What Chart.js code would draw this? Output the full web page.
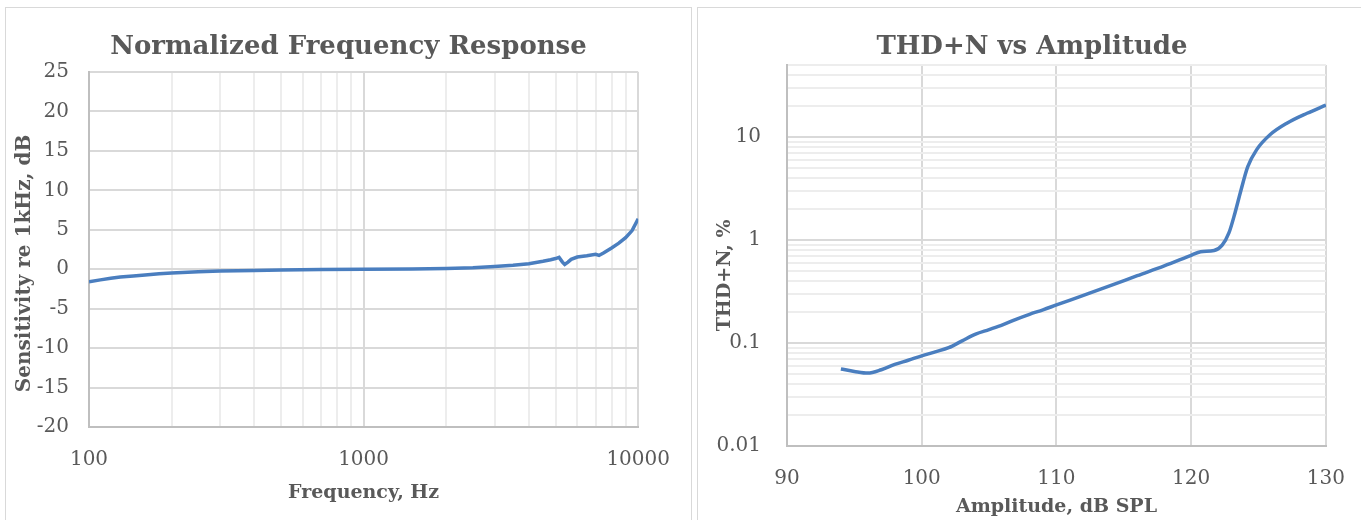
<!DOCTYPE html>
<html>
<head>
<meta charset="utf-8">
<script src="https://cdn.jsdelivr.net/npm/chart.js@4.4.0/dist/chart.umd.min.js"></script>
<style>
body { margin: 0; background: #fff; overflow: hidden; width: 1361px; height: 520px; }
.panel { position: absolute; top: 7px; height: 530px; border: 1px solid #d9d9d9; box-sizing: border-box; }
#p1 { left: 5px; width: 687px; }
#p2 { left: 697px; width: 700px; }
canvas { position: absolute; left: 0; top: 0; }
</style>
</head>
<body>
<div class="panel" id="p1"><canvas id="freqChart" width="685" height="512"></canvas></div>
<div class="panel" id="p2"><canvas id="thdChart" width="668" height="512"></canvas></div>
<script>
// frequency response
const freqHz = [100, 110, 120, 130, 145, 160, 180, 200, 250, 300, 400, 500, 700, 1000, 1500, 2000, 2500, 3000, 3500, 4000, 4500, 4800, 5000, 5150, 5300, 5400, 5550, 5700, 6000, 6500, 7000, 7200, 7500, 8000, 8500, 9000, 9500, 10000];
const sensDb = [-1.6, -1.35, -1.15, -1.0, -0.85, -0.72, -0.58, -0.48, -0.32, -0.24, -0.15, -0.1, -0.05, 0, 0.03, 0.1, 0.2, 0.35, 0.5, 0.7, 1.0, 1.2, 1.35, 1.5, 0.9, 0.6, 0.9, 1.25, 1.55, 1.7, 1.9, 1.75, 2.1, 2.7, 3.3, 4.0, 4.9, 6.4];

// THD+N vs amplitude
const splDb = [94, 95, 96, 97, 98, 99, 100, 101, 102, 103, 104, 105, 106, 107, 108, 109, 110, 112, 114, 116, 118, 120, 120.7, 121.7, 122.3, 122.8, 123.25, 123.7, 124.2, 124.85, 125.85, 127.1, 128.6, 130];
const thdPct = [0.056, 0.053, 0.051, 0.055, 0.062, 0.068, 0.075, 0.082, 0.09, 0.105, 0.122, 0.135, 0.15, 0.17, 0.19, 0.21, 0.234, 0.29, 0.36, 0.45, 0.56, 0.71, 0.77, 0.79, 0.89, 1.17, 1.83, 3.06, 5.15, 7.5, 10.5, 13.6, 17, 20.4];

// tick labels
const freqTicks = [100, 1000, 10000];
const sensTicks = [-20, -15, -10, -5, 0, 5, 10, 15, 20, 25];
const splTicks = [90, 100, 110, 120, 130];
const thdTicks = [0.01, 0.1, 1, 10];

const textColor = '#595959';
const lineColor = '#4a7ebf';
const majorGrid = '#d9d9d9';
const minorGrid = '#ededed';
const axisLine = '#bfbfbf';

Chart.defaults.font.family = '"DejaVu Serif", serif';
Chart.defaults.color = textColor;

// 1..9 steps in every decade, for the minor gridlines
function decadeSteps(labels, max) {
    let out = [];
    labels.forEach(d => {
        for (let k = 1; k <= 9; k++) {
            if (d * k <= max * 1.0001) out.push(d * k);
        }
    });
    return out;
}
function isLabel(labels, v) {
    return labels.some(l => Math.abs(v / l - 1) < 1e-6);
}
function setTicks(values) {
    return function (scale) {
        scale.ticks = values.map(v => ({ value: v }));
    };
}
// empty axis on the right so the title stays centred on the whole panel
function spacer(w) {
    return {
        type: 'linear',
        position: 'right',
        display: true,
        ticks: { display: false },
        grid: { display: false },
        border: { display: false },
        afterFit: s => { s.width = w; }
    };
}

const tickFont = { size: 20 };
const axisTitleFont = { size: 19, weight: 'bold' };
const titleFont = { size: 26, weight: 'bold', lineHeight: 1.2 };

new Chart(document.getElementById('freqChart'), {
    type: 'line',
    data: {
        datasets: [{
            data: freqHz.map((f, i) => ({ x: f, y: sensDb[i] })),
            borderColor: lineColor,
            borderWidth: 3.5,
            pointRadius: 0,
            tension: 0
        }]
    },
    options: {
        responsive: false,
        animation: false,
        layout: { padding: 0 },
        plugins: {
            legend: { display: false },
            tooltip: { enabled: false },
            title: {
                display: true,
                text: 'Normalized Frequency Response',
                font: titleFont,
                color: textColor,
                padding: { top: 24, bottom: 8.8 }
            }
        },
        scales: {
            x: {
                type: 'logarithmic',
                min: 100,
                max: 10000,
                afterBuildTicks: setTicks(decadeSteps(freqTicks, 10000)),
                afterFit: s => { s.height = 93; },
                ticks: {
                    autoSkip: false,
                    maxRotation: 0,
                    padding: 21,
                    font: tickFont,
                    callback: v => isLabel(freqTicks, v) ? String(v) : ''
                },
                grid: {
                    drawTicks: false,
                    lineWidth: 2,
                    color: c => isLabel(freqTicks, c.tick.value) ? majorGrid : minorGrid
                },
                border: { color: axisLine, width: 2 },
                title: {
                    display: true,
                    text: 'Frequency, Hz',
                    font: axisTitleFont,
                    padding: { top: 0, bottom: 15.6 }
                }
            },
            y: {
                min: -20,
                max: 25,
                afterBuildTicks: setTicks(sensTicks),
                afterFit: s => { s.width = 83; },
                ticks: { padding: 20, font: tickFont },
                grid: { drawTicks: false, lineWidth: 2, color: majorGrid },
                border: { color: axisLine, width: 2 },
                title: {
                    display: true,
                    text: 'Sensitivity re 1kHz, dB    ',
                    font: { size: 20, weight: 'bold' },
                    padding: { top: 7, bottom: 0 }
                }
            },
            pad: spacer(48)
        }
    }
});

new Chart(document.getElementById('thdChart'), {
    type: 'line',
    data: {
        datasets: [{
            data: splDb.map((a, i) => ({ x: a, y: thdPct[i] })),
            borderColor: lineColor,
            borderWidth: 3.5,
            pointRadius: 0,
            tension: 0.4,
            cubicInterpolationMode: 'monotone'
        }]
    },
    options: {
        responsive: false,
        animation: false,
        layout: { padding: 0 },
        plugins: {
            legend: { display: false },
            tooltip: { enabled: false },
            title: {
                display: true,
                text: 'THD+N vs Amplitude',
                font: titleFont,
                color: textColor,
                padding: { top: 24, bottom: 1.8 }
            }
        },
        scales: {
            x: {
                type: 'linear',
                min: 90,
                max: 130,
                afterBuildTicks: setTicks(splTicks),
                afterFit: s => { s.height = 74; },
                ticks: { autoSkip: false, maxRotation: 0, padding: 21, font: tickFont },
                grid: { drawTicks: false, lineWidth: 2, color: majorGrid },
                border: { color: axisLine, width: 2 },
                title: {
                    display: true,
                    text: 'Amplitude, dB SPL',
                    font: axisTitleFont,
                    padding: { top: 0, bottom: 1.6 }
                }
            },
            y: {
                type: 'logarithmic',
                min: 0.01,
                max: 50,
                afterBuildTicks: setTicks(decadeSteps(thdTicks, 50)),
                afterFit: s => { s.width = 89; },
                ticks: {
                    autoSkip: false,
                    padding: 26,
                    font: tickFont,
                    callback: v => {
                        const hit = thdTicks.find(l => Math.abs(v / l - 1) < 1e-6);
                        return hit !== undefined ? String(hit) : '';
                    }
                },
                grid: {
                    drawTicks: false,
                    lineWidth: 2,
                    color: c => isLabel(thdTicks, c.tick.value) ? majorGrid : minorGrid
                },
                border: { color: axisLine, width: 2 },
                title: {
                    display: true,
                    text: 'THD+N, %      ',
                    font: axisTitleFont,
                    padding: { top: 16, bottom: 0 }
                }
            },
            pad: spacer(40)
        }
    }
});
</script>
</body>
</html>
